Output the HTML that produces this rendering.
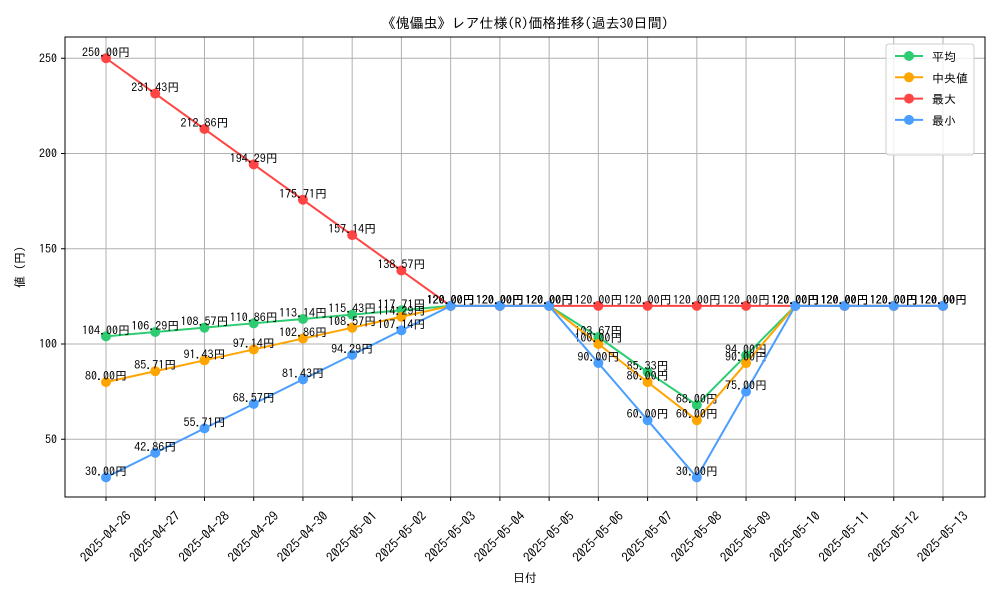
<!DOCTYPE html>
<html><head><meta charset="utf-8"><style>
body{margin:0;background:#fff;}
svg text{font-family:"IPAGothic","Noto Sans CJK JP",sans-serif;}
</style></head><body>
<svg id="c" width="1000" height="600" xmlns="http://www.w3.org/2000/svg">
<rect width="1000" height="600" fill="#fff"/>
<text x="525" y="28" text-anchor="middle" font-size="14">《傀儡虫》レア仕様(R)価格推移(過去30日間)</text>
<g id="grid"></g><g id="series"></g><g id="axes"></g>
</svg>
<script>
const dates=["2025-04-26","2025-04-27","2025-04-28","2025-04-29","2025-04-30","2025-05-01","2025-05-02","2025-05-03","2025-05-04","2025-05-05","2025-05-06","2025-05-07","2025-05-08","2025-05-09","2025-05-10","2025-05-11","2025-05-12","2025-05-13"];
const avgVals=[104,106.29,108.57,110.86,113.14,115.43,117.71,120,120,120,103.67,85.33,68,94,120,120,120,120];
const medVals=[80,85.71,91.43,97.14,102.86,108.57,114.29,120,120,120,100,80,60,90,120,120,120,120];
const maxVals=[250,231.43,212.86,194.29,175.71,157.14,138.57,120,120,120,120,120,120,120,120,120,120,120];
const minVals=[30,42.86,55.71,68.57,81.43,94.29,107.14,120,120,120,90,60,30,75,120,120,120,120];
const yTicks=[50,100,150,200,250];
const seriesNames=["平均","中央値","最大","最小"];
const NS="http://www.w3.org/2000/svg";
const L=65,R=985,T=37,B=497;
const x=i=>106+i*(943-106)/(dates.length-1);
const y=v=>344-(v-100)*95.25/50;
function mk(tag,attrs,parent,txt){const e=document.createElementNS(NS,tag);for(const k in attrs)e.setAttribute(k,attrs[k]);if(txt!==undefined)e.textContent=txt;parent.appendChild(e);return e;}
const grid=document.getElementById('grid'),axes=document.getElementById('axes'),ser=document.getElementById('series');
dates.forEach((d,i)=>{
 const g=mk('line',{x1:x(i),x2:x(i),y1:T,y2:B,stroke:'#b0b0b0','stroke-width':1},grid);
 
 
 mk('line',{x1:x(i),x2:x(i),y1:B,y2:B+4,stroke:'#000'},axes);
 const t=mk('text',{x:0,y:4,'font-size':13,'text-anchor':'middle',transform:`translate(${x(i)},537) rotate(-45)`},axes,d);
 
 
});
yTicks.forEach(v=>{
 const g=mk('line',{x1:L,x2:R,y1:y(v),y2:y(v),stroke:'#b0b0b0','stroke-width':1},grid);
 
 
 mk('line',{x1:L-4,x2:L,y1:y(v),y2:y(v),stroke:'#000'},axes);
 const t=mk('text',{x:L-8,y:y(v)+4,'font-size':12,'text-anchor':'end'},axes,v);
 
 
});
const fr=mk('rect',{x:L,y:T,width:R-L,height:B-T,fill:'none',stroke:'#000'},axes);


const xt=mk('text',{x:525,y:582,'font-size':12,'text-anchor':'middle'},axes,'日付');


const yt=mk('text',{x:0,y:0,'font-size':12,'text-anchor':'middle',transform:'translate(24,267) rotate(-90)'},axes,'値 (円)');


const all=[[avgVals,'#2ecc71','avg'],[medVals,'#ffa500','median'],[maxVals,'#ff4444','max'],[minVals,'#4a9eff','min']];
all.forEach(([vals,col,nm])=>{
 const g=mk('g',{},ser);
 
 
 const p=mk('polyline',{points:vals.map((v,i)=>x(i)+','+y(v)).join(' '),fill:'none',stroke:col,'stroke-width':2},g);
 
 
 vals.forEach((v,i)=>{
  const c=mk('circle',{cx:x(i),cy:y(v),r:5,fill:col},g);
  
  
  const t=mk('text',{x:x(i),y:y(v)-2,'font-size':12,'text-anchor':'middle'},g,v.toFixed(2)+'円');
  
  
 });
});
const lg=mk('g',{},axes);


mk('rect',{x:886,y:44,width:88,height:111,rx:3,fill:'#fff','fill-opacity':0.8,stroke:'#ccc'},lg);
all.forEach(([v,col,nm],k)=>{
 const yy=56+k*21.3;
 const e=mk('g',{},lg);
 
 
 mk('line',{x1:895,x2:923,y1:yy,y2:yy,stroke:col,'stroke-width':2},e);
 mk('circle',{cx:909,cy:yy,r:5,fill:col},e);
 mk('text',{x:932,y:yy+5,'font-size':12},e,seriesNames[k]);
});
</script>
</body></html>
